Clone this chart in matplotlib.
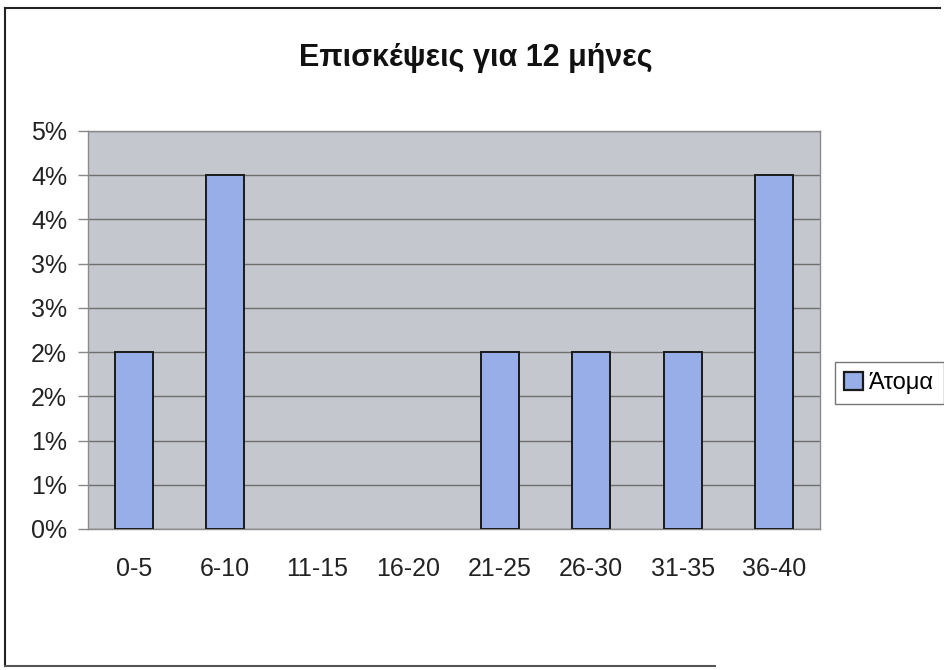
import numpy as np
import matplotlib
matplotlib.use('Agg')
import matplotlib.pyplot as plt
from matplotlib.ticker import FuncFormatter, MultipleLocator
from matplotlib.lines import Line2D

plt.rcParams['font.family'] = ['Liberation Sans', 'DejaVu Sans']

# data
categories = ['0-5', '6-10', '11-15', '16-20', '21-25', '26-30', '31-35', '36-40']
atoma = [0.02, 0.04, 0.0, 0.0, 0.02, 0.02, 0.02, 0.04]
title = 'Επισκέψεις για 12 μήνες'
series_name = 'Άτομα'

fig = plt.figure(figsize=(9.45, 6.7), dpi=100)
ax = fig.add_axes([88 / 945, 1 - 529 / 670, (820 - 88) / 945, (529 - 131) / 670])

x = np.arange(len(categories))
bars = ax.bar(x, atoma, width=0.42, color='#98AEE8', edgecolor='#1a1a1a',
              linewidth=1.4, label=series_name, zorder=3)
# empty categories show no outline in the original
for b, v in zip(bars, atoma):
    if v == 0:
        b.set_linewidth(0)

ax.set_facecolor('#C5C7CF')
ax.set_xlim(-0.5, len(categories) - 0.5)
ax.set_ylim(0, 0.045)
ax.yaxis.set_major_locator(MultipleLocator(0.005))
ax.yaxis.set_major_formatter(
    FuncFormatter(lambda v, p: f'{int(np.floor(v * 100 + 0.5 + 1e-9))}%'))
ax.grid(axis='y', color='#6e6e6e', linewidth=1.0, zorder=0)

ax.set_xticks(x)
ax.set_xticklabels(categories)
ax.tick_params(axis='x', length=0, pad=20, labelsize=18, colors='#222222')
ax.tick_params(axis='y', length=7, width=1, color='#888888', pad=8,
               labelsize=18, labelcolor='#222222')

for s in ax.spines.values():
    s.set_color('#8a8a8a')
    s.set_linewidth(1.0)

fig.text(476 / 945, 1 - 58 / 670, title, ha='center', va='center',
         fontsize=22, fontweight='bold', color='#111111')

# legend box on the right (runs off the right edge like the scan)
fig.legend(handles=[plt.Rectangle((0, 0), 1, 1, facecolor='#98AEE8',
                                  edgecolor='#1a1a1a', linewidth=1.6)],
           labels=[series_name], loc='center left',
           bbox_to_anchor=(835 / 945, 1 - 383 / 670), fontsize=17,
           frameon=True, fancybox=False, edgecolor='#555555',
           handlelength=0.8, handleheight=0.8, handletextpad=0.25,
           borderpad=0.4, borderaxespad=0)

# outer frame of the scanned chart
fig.add_artist(Line2D([5 / 945, 5 / 945], [1 - 8 / 670, 1 - 666 / 670],
                      transform=fig.transFigure, color='#222222', linewidth=1.5))
fig.add_artist(Line2D([5 / 945, 940 / 945], [1 - 8 / 670, 1 - 8 / 670],
                      transform=fig.transFigure, color='#222222', linewidth=1.5))
fig.add_artist(Line2D([5 / 945, 715 / 945], [1 - 666 / 670, 1 - 666 / 670],
                      transform=fig.transFigure, color='#555555', linewidth=1.5))

fig.savefig('out.png', dpi=100)
